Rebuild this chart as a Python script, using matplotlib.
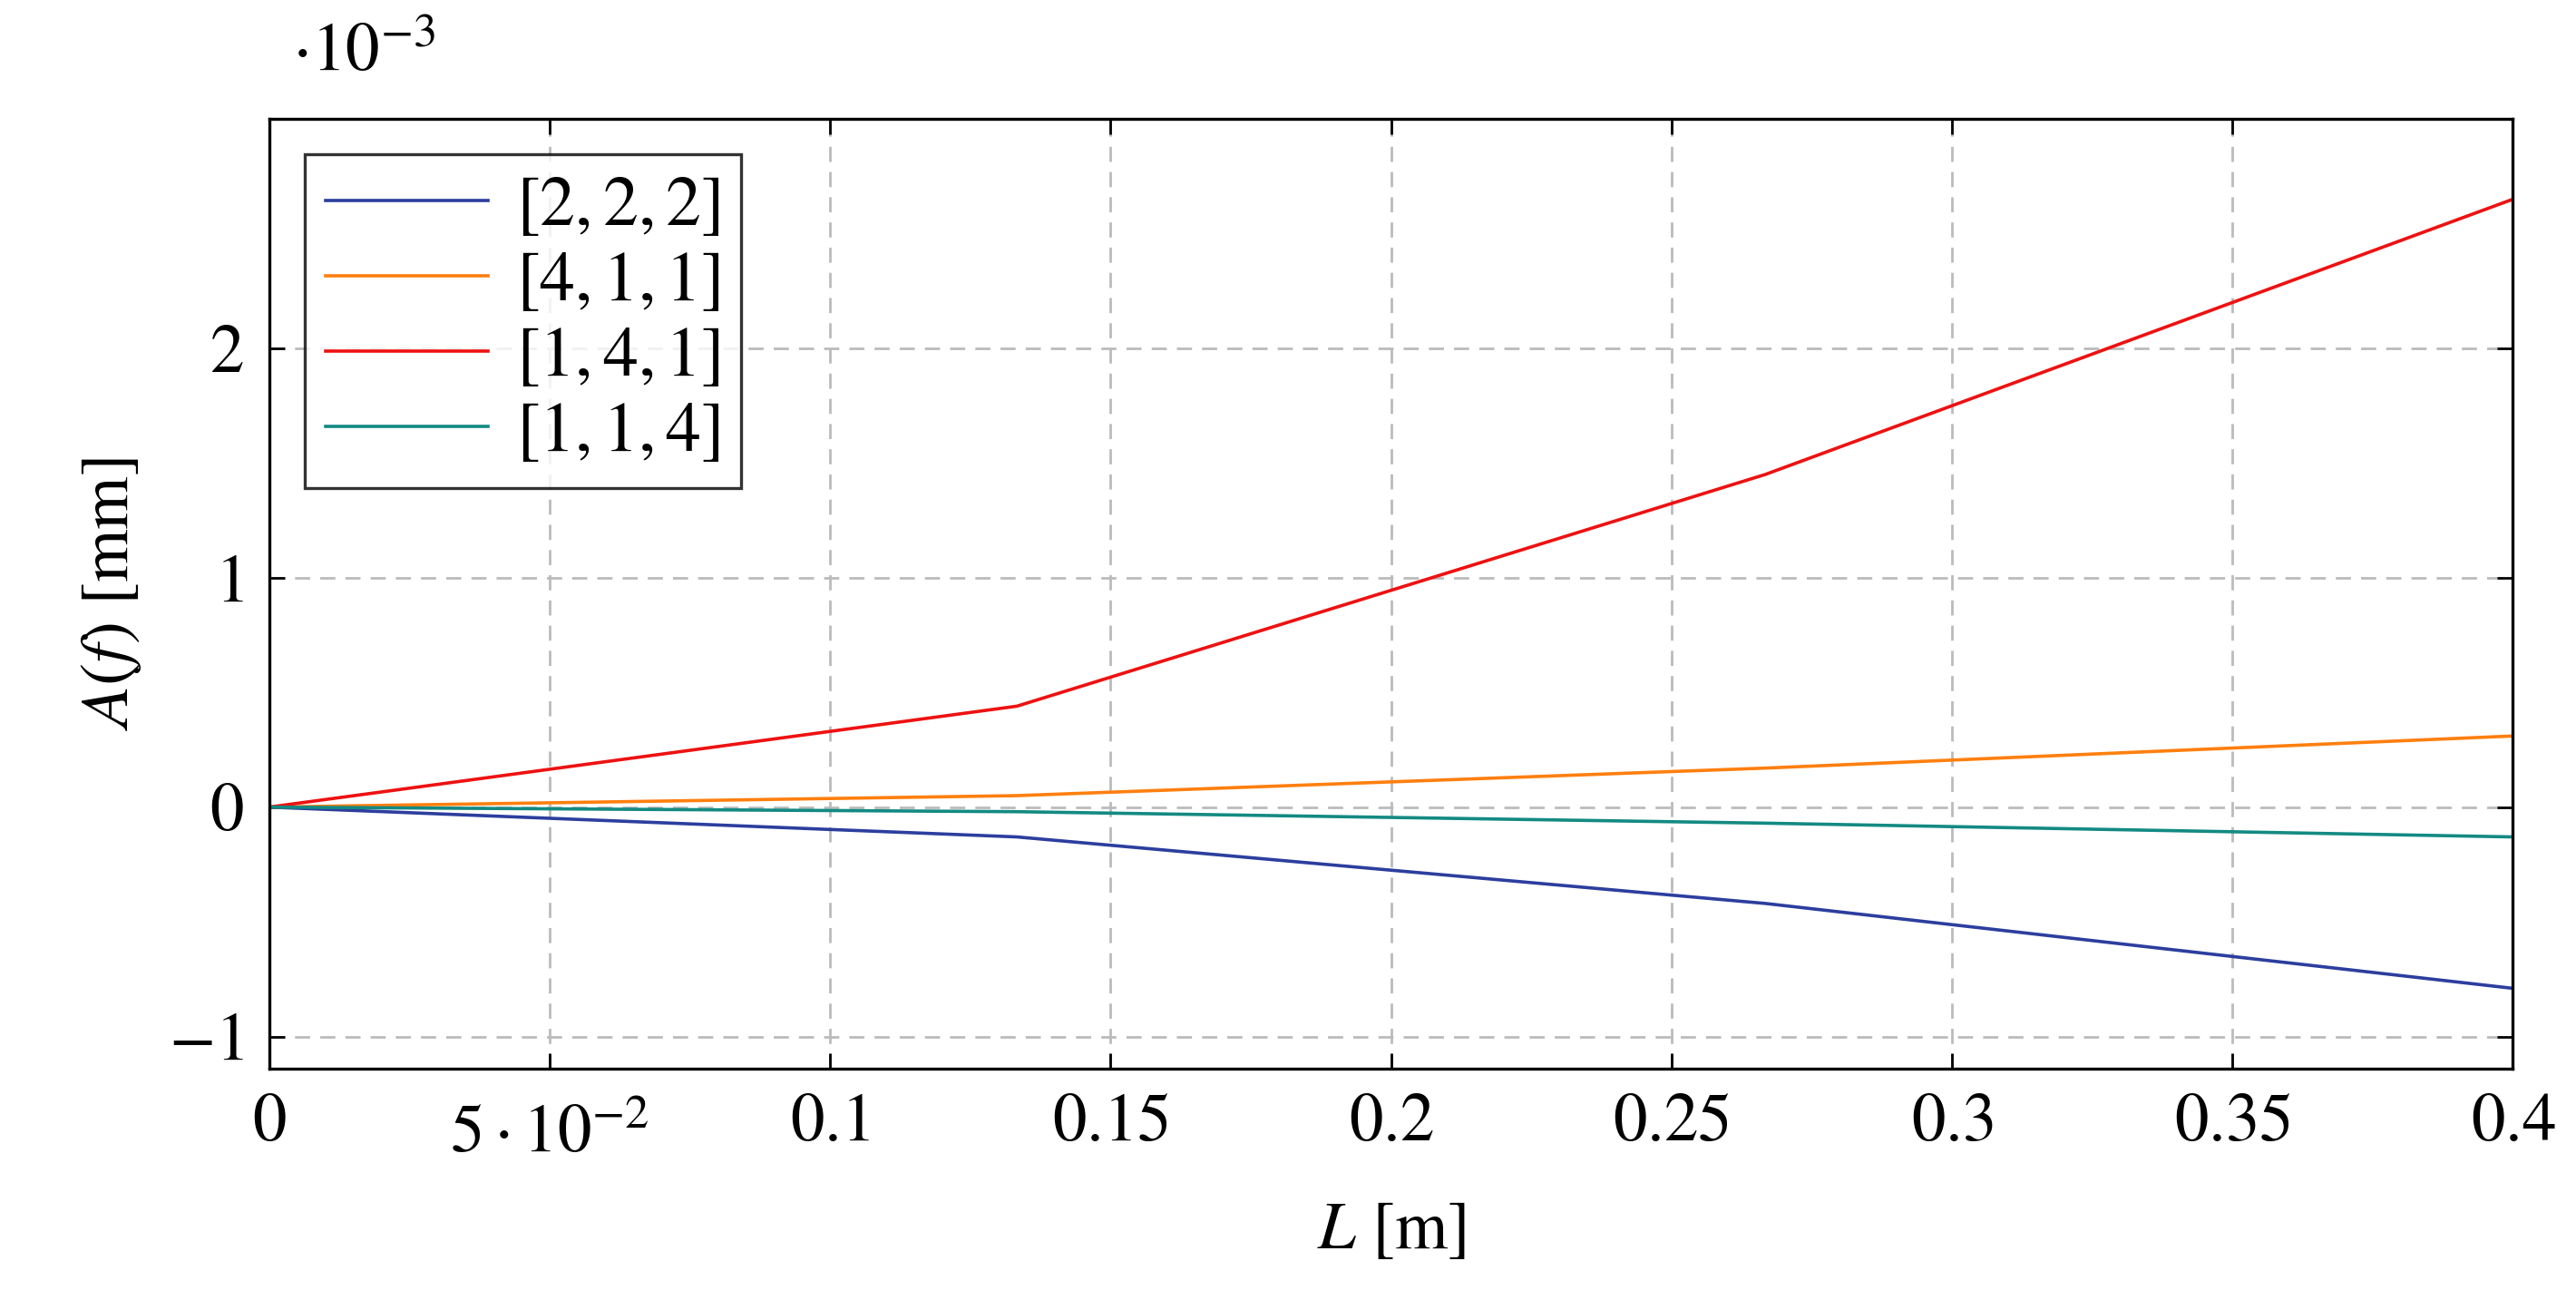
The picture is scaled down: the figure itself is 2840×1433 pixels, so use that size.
import matplotlib
matplotlib.use("Agg")
import matplotlib.pyplot as plt

L = [0.0, 0.1333, 0.2667, 0.4]
s222 = [0.0, -0.13, -0.42, -0.79]
s411 = [0.0, 0.05, 0.17, 0.31]
s141 = [0.0, 0.44, 1.45, 2.65]
s114 = [0.0, -0.02, -0.07, -0.13]
labels = ["$[2,2,2]$", "$[4,1,1]$", "$[1,4,1]$", "$[1,1,4]$"]
colors = ["#2c3e9e", "#ff7f0e", "#ee1111", "#138a82"]
xticks = [0, 0.05, 0.1, 0.15, 0.2, 0.25, 0.3, 0.35, 0.4]
xticklabels = ["$0$", "$5\\cdot10^{-2}$", "$0.1$", "$0.15$", "$0.2$", "$0.25$", "$0.3$", "$0.35$", "$0.4$"]
yticks = [-1, 0, 1, 2]

plt.rcParams['mathtext.fontset'] = 'stix'
plt.rcParams['font.family'] = ['Liberation Serif', 'DejaVu Serif']
fig = plt.figure(figsize=(14.2, 7.165), dpi=200)
ax = fig.add_axes([0.1045, 0.178, 0.871, 0.7305])
for y, lab, c in zip([s222, s411, s141, s114], labels, colors):
    ax.plot(L, y, color=c, lw=1.3, label=lab)
ax.set_xlim(0, 0.4)
ax.set_ylim(-1.14, 3.0)
ax.set_xticks(xticks)
ax.set_xticklabels(xticklabels, fontsize=27)
for i, t in enumerate(ax.get_xticklabels()):
    if i == 1:
        t.set_y(-0.012)
ax.set_yticks(yticks)
ax.set_yticklabels(["$-1$", "$0$", "$1$", "$2$"], fontsize=27)
ax.tick_params(direction='in', length=6, width=1, top=True, right=True, pad=10)
ax.grid(True, color='#bbbbbb', ls=(0, (6, 4)), lw=1)
for sp in ax.spines.values():
    sp.set_linewidth(1.2)
ax.set_xlabel("$L\\ [\\mathrm{m}]$", fontsize=27, labelpad=14)
ax.set_ylabel("$A(f)\\ [\\mathrm{mm}]$", fontsize=27, labelpad=10)
ax.text(0.01, 1.035, "$\\cdot10^{-3}$", transform=ax.transAxes, fontsize=27, va='bottom')
leg = ax.legend(loc='upper left', fontsize=28, fancybox=False, edgecolor='black',
                handlelength=2.3, handletextpad=0.4, borderaxespad=0.5, labelspacing=0.15,
                borderpad=0.3)
leg.get_frame().set_linewidth(1.2)
fig.savefig("out.png", dpi=200)
